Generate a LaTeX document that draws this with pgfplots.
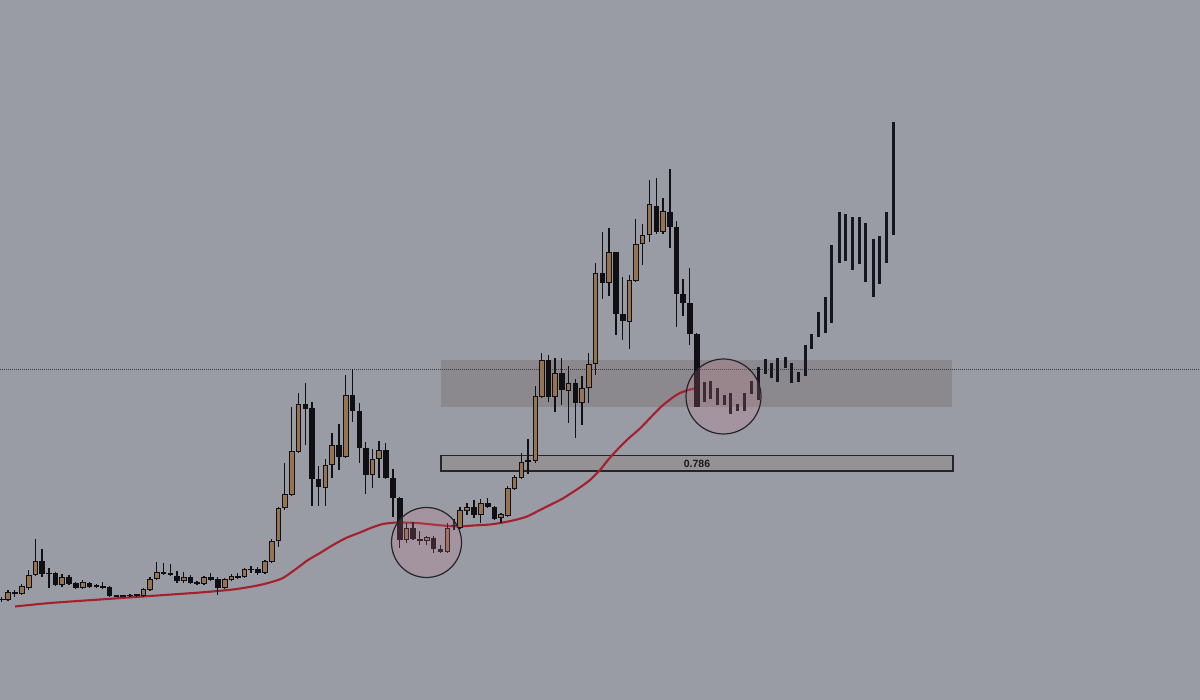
\documentclass[border=0pt]{standalone}
\usepackage{pgfplots}
\pgfplotsset{compat=1.18}
\usepackage{pgfplotstable}
\usepackage{fontspec}
\setmainfont{Liberation Sans}

\definecolor{bg}{RGB}{153,156,165}
\definecolor{bull}{RGB}{150,116,82}
\definecolor{bear}{RGB}{16,16,20}
\definecolor{bars}{RGB}{20,22,32}
\definecolor{ma}{RGB}{165,32,45}
\definecolor{zone}{RGB}{120,110,105}
\definecolor{lvl}{RGB}{148,146,148}
\definecolor{ring}{RGB}{205,120,140}
\definecolor{edge}{RGB}{38,36,42}

% candles in screen units: x, open, close, high, low (y grows downwards)
\pgfplotstableread{
x o c h l
1.7 599 600 597 602
8 600 592 590 601
14.7 592 594 590 597
21.7 594 586 584 595
28.7 588 575 570 590
35.3 575 561 539 576
42 561 574 549 577
49 573 574 568 588
55.3 573 585 572 586
62 585 577 574 587
69 577 584 575 585
75.7 583 588 582 589
82.7 588 582 580 589
89.3 583 587 582 588
96.3 585 587 584 588
102.7 586 588 582 589
109.3 587 596 586 597
116.3 595.5 596.5 595 597
123 596.5 595.5 595 597
130 596 595 594 597
136.7 596 594.5 594 597
143.3 596 589 588 597
150 590 579 577 591
156.7 579 572 562 580
163.3 572 574 563 575
170.3 573 575 564 576
177 576 581 571 583
183.7 581 577 572 583
190.3 577 583 575 584
197 582 584 581 585
204 584 577 576 585
210.7 577 580 573 581
217.7 579 588 577 595
224.7 588 579 578 589
231.3 580 576 574 581
237.7 576 577.5 573 579
244.3 577 569 568 578
251 569 570 566 573
257.7 569 573 567 575
265 573 561 560 574
271.7 562 541 539 563
278.3 541 508 507 547
284.7 508 494 463 510
291.7 495 451 407 496
298.3 452 404 393 453
305.3 404 409 383 445
312 408 479 402 506
318.3 479 487 466 506
325.3 488 465 459 506
332 465 445 433 478
339 445 457 424 470
345.7 457 395 375 458
352.3 395 411 369 422
359.3 411 448 403 463
365.7 448 475 442 494
372.3 475 459 449 488
379 459 450 441 478
385.7 450 478 443 479
393 478 498 469 517
399.7 498 540 497 548
406.3 540 528 523 543
413 528 539 522 540
419.7 539 541 531 545
426.7 541 537 536 545
433.3 538 549 536 553
440.3 549 552 545 553
447.3 552 528 523 553
454 525 526 519 530
460 528 510 507 529
467 511 507 503 515
474 507 515 500 518
480.7 515 503 499 523
487.7 503 507 498 508
494.3 507 519 506 520
501 518 514 513 523
507.7 516 488 486 517
514.3 489 477 475 490
521.3 478 462 453 479
528 462 460 439 474
535.3 461 396 386 463
541.7 397 360 353 398
548.3 360 397 355 402
555 397 373 358 412
561.7 373 390 358 405
568.3 391 383 366 423
575.3 383 403 379 438
582 403 388 376 425
588.7 388 364 353 403
595.3 364 273 263 375
602.3 273 283 232 299
609 283 252 228 296
616 252 314 252 335
622.7 314 321 277 340
629.3 322 280 275 349
635.7 281 244 219 282
642.3 244 235 224 265
649.3 235 204 180 242
656.3 206 232 178 234
663 232 211 198 234
670 212 227 169 248
676.3 227 294 221 327
683 294 303 279 316
689.7 303 334 268 345
696.7 334 407 333 407
}\candles

% plain range bars on the right: x, top, bottom
\pgfplotstableread{
x t b
704 382 402
710.7 381 399
717.3 388 405
724 395 405
730.7 393 414
737.3 404 411
744.7 393 411
751.3 381 394
758 367 400
765 359 374
771.7 363 378
777.7 358 382
785 357 368
791.5 363 383
798.5 372 382
805 345 376
811.7 334 349
818.7 312 337
825.3 297 333
831.7 245 323
839 212 263
845.7 214 261
852.7 217 270
859 217 264
865.7 223 282
873 239 297
879.3 236 284
886 212 263
893.3 122 235
}\rangebars

\pgfplotsset{
  rng/.style 2 args={draw=none, mark=none, forget plot,
    error bars/.cd, y dir=both, y explicit, error mark=none,
    error bar style={line width=#1, draw=#2}},
}

\begin{document}
\begin{tikzpicture}
\fill[bg] (-5pt,-5pt) rectangle (1205pt,705pt);
\begin{axis}[
  at={(0,0)}, anchor=south west,
  width=1200pt, height=700pt, scale only axis,
  xmin=0, xmax=1200, ymin=0, ymax=700, y dir=reverse,
  axis lines=none, ticks=none,
  clip=true,
]
% zones
\fill[zone, opacity=0.4] (axis cs:441,360) rectangle (axis cs:952,407);
\filldraw[fill=lvl, draw=edge, line width=1.2pt] (axis cs:441,455.5) rectangle (axis cs:953,471);
\draw[dash pattern=on 1pt off 1pt, line width=0.9pt, color={rgb,255:red,58;green,58;blue,70}]
  (axis cs:0,369.5) -- (axis cs:1200,369.5);

% moving average
\addplot[ma, line width=2.1pt, smooth, tension=0.4] coordinates {
(15,606.5) (50,603) (100,599.5) (150,596) (200,592.5) (233,589.5) (255,586)
(268,583) (283,578) (300,566) (308,560) (320,553) (333,545) (346,538)
(360,532.5) (372,527.5) (383,524) (397,522.5) (417,523) (437,525)
(457,526.5) (473,525.5) (490,524.5) (503,522.5) (515,520) (527,516.5)
(540,510) (550,505) (562,499) (573,492) (582,486) (590,480) (600,470)
(608,460) (617,450) (628,439) (640,428.5) (652,416) (662,406) (672,398)
(680,393) (690,389.5) (697,388)
};

% wicks
\addplot[rng={1.1pt}{bear}]
  table[x=x, y expr={(\thisrow{h}+\thisrow{l})/2},
        y error expr={(\thisrow{l}-\thisrow{h})/2}] {\candles};
% bodies (outline / bear fill)
\addplot[rng={5.6pt}{bear}]
  table[x=x, y expr={(\thisrow{o}+\thisrow{c})/2},
        y error expr={max(abs(\thisrow{o}-\thisrow{c})/2,0.8)}] {\candles};
% bull fill
\addplot[rng={3.6pt}{bull}]
  table[x=x, y expr={(\thisrow{o}+\thisrow{c})/2},
        y error expr={max((\thisrow{o}-\thisrow{c})/2-1,0)}] {\candles};
% range bars
\addplot[rng={3pt}{bars}]
  table[x=x, y expr={(\thisrow{t}+\thisrow{b})/2},
        y error expr={(\thisrow{b}-\thisrow{t})/2}] {\rangebars};

% circles
\filldraw[fill=ring, fill opacity=0.22, draw=edge, line width=1.2pt]
  (axis cs:426.5,542.5) circle[radius=35pt];
\filldraw[fill=ring, fill opacity=0.22, draw=edge, line width=1.2pt]
  (axis cs:723.5,396.5) circle[radius=37.5pt];

\node[font=\bfseries\fontsize{10.5}{12}\selectfont, text={rgb,255:red,25;green,25;blue,30}]
  at (axis cs:697,463.5) {0.786};
\end{axis}
\pgfresetboundingbox
\path[use as bounding box] (0,0) rectangle (1200pt,700pt);
\end{tikzpicture}
\end{document}
